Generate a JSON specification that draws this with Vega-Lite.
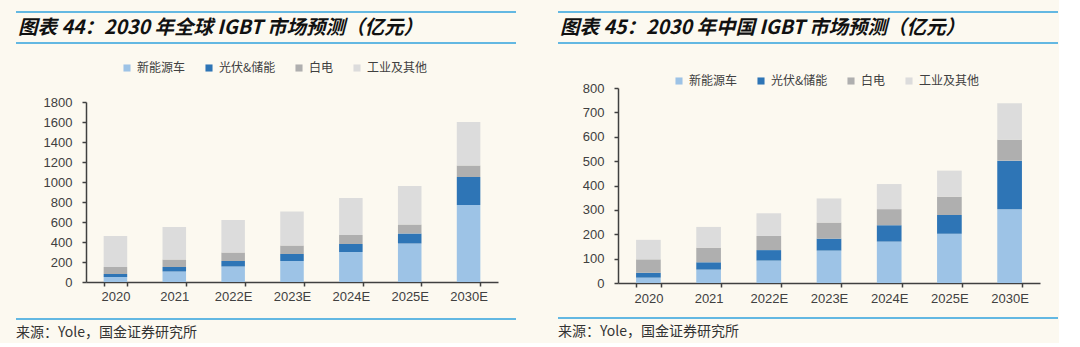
{
  "$schema": "https://vega.github.io/schema/vega-lite/v6.json",
  "background": "#fcf9f0",
  "padding": {"left": 15, "top": 11, "right": 0, "bottom": 0},
  "config": {
    "view": {"stroke": null},
    "font": "Liberation Sans",
    "axis": {
      "labelFont": "Liberation Sans",
      "labelFontSize": 13,
      "labelColor": "#404040",
      "domainColor": "#404040",
      "domainWidth": 1.5,
      "tickColor": "#404040",
      "tickWidth": 1.5,
      "tickSize": 4,
      "grid": false,
      "title": null
    },
    "legend": {
      "orient": "none",
      "direction": "horizontal",
      "title": null,
      "symbolType": "square",
      "symbolSize": 50,
      "symbolStrokeWidth": 0,
      "labelFont": "Noto Sans CJK SC",
      "labelFontSize": 12,
      "labelColor": "#404040",
      "labelOffset": 4,
      "columnPadding": 17
    }
  },
  "datasets": {
    "global": [
      {"year": "2020", "s": "新能源车", "i": 1, "v": 50},
      {"year": "2020", "s": "光伏&储能", "i": 2, "v": 30},
      {"year": "2020", "s": "白电", "i": 3, "v": 70},
      {"year": "2020", "s": "工业及其他", "i": 4, "v": 310},
      {"year": "2021", "s": "新能源车", "i": 1, "v": 105},
      {"year": "2021", "s": "光伏&储能", "i": 2, "v": 45},
      {"year": "2021", "s": "白电", "i": 3, "v": 75},
      {"year": "2021", "s": "工业及其他", "i": 4, "v": 325},
      {"year": "2022E", "s": "新能源车", "i": 1, "v": 155},
      {"year": "2022E", "s": "光伏&储能", "i": 2, "v": 55},
      {"year": "2022E", "s": "白电", "i": 3, "v": 85},
      {"year": "2022E", "s": "工业及其他", "i": 4, "v": 325},
      {"year": "2023E", "s": "新能源车", "i": 1, "v": 210},
      {"year": "2023E", "s": "光伏&储能", "i": 2, "v": 70},
      {"year": "2023E", "s": "白电", "i": 3, "v": 85},
      {"year": "2023E", "s": "工业及其他", "i": 4, "v": 340},
      {"year": "2024E", "s": "新能源车", "i": 1, "v": 300},
      {"year": "2024E", "s": "光伏&储能", "i": 2, "v": 80},
      {"year": "2024E", "s": "白电", "i": 3, "v": 90},
      {"year": "2024E", "s": "工业及其他", "i": 4, "v": 370},
      {"year": "2025E", "s": "新能源车", "i": 1, "v": 385},
      {"year": "2025E", "s": "光伏&储能", "i": 2, "v": 100},
      {"year": "2025E", "s": "白电", "i": 3, "v": 90},
      {"year": "2025E", "s": "工业及其他", "i": 4, "v": 385},
      {"year": "2030E", "s": "新能源车", "i": 1, "v": 770},
      {"year": "2030E", "s": "光伏&储能", "i": 2, "v": 280},
      {"year": "2030E", "s": "白电", "i": 3, "v": 115},
      {"year": "2030E", "s": "工业及其他", "i": 4, "v": 435}
    ],
    "china": [
      {"year": "2020", "s": "新能源车", "i": 1, "v": 22},
      {"year": "2020", "s": "光伏&储能", "i": 2, "v": 20},
      {"year": "2020", "s": "白电", "i": 3, "v": 55},
      {"year": "2020", "s": "工业及其他", "i": 4, "v": 80},
      {"year": "2021", "s": "新能源车", "i": 1, "v": 55},
      {"year": "2021", "s": "光伏&储能", "i": 2, "v": 30},
      {"year": "2021", "s": "白电", "i": 3, "v": 60},
      {"year": "2021", "s": "工业及其他", "i": 4, "v": 85},
      {"year": "2022E", "s": "新能源车", "i": 1, "v": 92},
      {"year": "2022E", "s": "光伏&储能", "i": 2, "v": 43},
      {"year": "2022E", "s": "白电", "i": 3, "v": 58},
      {"year": "2022E", "s": "工业及其他", "i": 4, "v": 93},
      {"year": "2023E", "s": "新能源车", "i": 1, "v": 133},
      {"year": "2023E", "s": "光伏&储能", "i": 2, "v": 49},
      {"year": "2023E", "s": "白电", "i": 3, "v": 66},
      {"year": "2023E", "s": "工业及其他", "i": 4, "v": 99},
      {"year": "2024E", "s": "新能源车", "i": 1, "v": 170},
      {"year": "2024E", "s": "光伏&储能", "i": 2, "v": 67},
      {"year": "2024E", "s": "白电", "i": 3, "v": 66},
      {"year": "2024E", "s": "工业及其他", "i": 4, "v": 103},
      {"year": "2025E", "s": "新能源车", "i": 1, "v": 202},
      {"year": "2025E", "s": "光伏&储能", "i": 2, "v": 77},
      {"year": "2025E", "s": "白电", "i": 3, "v": 75},
      {"year": "2025E", "s": "工业及其他", "i": 4, "v": 107},
      {"year": "2030E", "s": "新能源车", "i": 1, "v": 303},
      {"year": "2030E", "s": "光伏&储能", "i": 2, "v": 199},
      {"year": "2030E", "s": "白电", "i": 3, "v": 86},
      {"year": "2030E", "s": "工业及其他", "i": 4, "v": 149}
    ]
  },
  "spacing": 40,
  "resolve": {"scale": {"color": "independent"}, "legend": {"color": "independent"}},
  "hconcat": [
    {
      "columns": 1,
      "align": "none",
      "spacing": 15,
      "resolve": {"scale": {"color": "independent"}, "legend": {"color": "independent"}},
      "concat": [
        {
          "columns": 1,
          "align": "none",
          "spacing": 18,
          "resolve": {"scale": {"color": "independent"}, "legend": {"color": "independent"}},
          "concat": [
            {
              "width": 500,
              "height": 31,
              "data": {"values": [{"t": "图表 44：2030 年全球 IGBT 市场预测（亿元）"}]},
              "layer": [
                {"mark": {"type": "rule", "color": "#63b8e2", "strokeWidth": 2}, "encoding": {"y": {"datum": 1, "type": "quantitative", "scale": {"domain": [0, 1]}, "axis": null}}},
                {"mark": {"type": "rule", "color": "#63b8e2", "strokeWidth": 2}, "encoding": {"y": {"datum": 0, "type": "quantitative", "scale": {"domain": [0, 1]}, "axis": null}}},
                {"mark": {"type": "text", "align": "left", "baseline": "middle", "font": "Noto Sans CJK SC", "fontSize": 19.5, "fontStyle": "italic", "fontWeight": "bold", "color": "#111111", "dx": 2},
                 "encoding": {"text": {"field": "t"}, "x": {"datum": 0, "type": "quantitative", "scale": {"domain": [0, 1]}, "axis": null}, "y": {"datum": 0.5, "type": "quantitative", "scale": {"domain": [0, 1]}, "axis": null}}}
              ]
            },
            {
              "width": 482,
              "height": 180,
              "data": {"name": "global"},
              "mark": {"type": "bar"},
              "encoding": {
                "x": {"field": "year", "type": "ordinal", "sort": null, "scale": {"range": [70, 482], "paddingInner": 0.6, "paddingOuter": 0.3}, "axis": {"labelAngle": 0, "tickBand": "extent", "labelPadding": 4}},
                "y": {"field": "v", "type": "quantitative", "stack": "zero", "scale": {"domain": [0, 1800]}, "axis": {"values": [0, 200, 400, 600, 800, 1000, 1200, 1400, 1600, 1800], "format": "d", "labelPadding": 10, "offset": -70}},
                "color": {"field": "s", "type": "nominal", "scale": {"domain": ["新能源车", "光伏&储能", "白电", "工业及其他"], "range": ["#9dc3e6", "#2e75b6", "#afafaf", "#dcdcdc"]}, "legend": {"legendX": 105, "legendY": -40}},
                "order": {"field": "i", "type": "quantitative"}
              }
            }
          ]
        },
        {
          "width": 500,
          "height": 24,
          "data": {"values": [{"t": "来源：Yole，国金证券研究所"}]},
          "layer": [
            {"mark": {"type": "rule", "color": "#63b8e2", "strokeWidth": 2}, "encoding": {"y": {"datum": 1, "type": "quantitative", "scale": {"domain": [0, 1]}, "axis": null}}},
            {"mark": {"type": "text", "align": "left", "baseline": "middle", "font": "Noto Sans CJK SC", "fontSize": 14, "color": "#333333"},
             "encoding": {"text": {"field": "t"}, "x": {"datum": 0, "type": "quantitative", "scale": {"domain": [0, 1]}, "axis": null}, "y": {"datum": 0.4, "type": "quantitative", "scale": {"domain": [0, 1]}, "axis": null}}}
          ]
        }
      ]
    },
    {
      "columns": 1,
      "align": "none",
      "spacing": 12,
      "resolve": {"scale": {"color": "independent"}, "legend": {"color": "independent"}},
      "concat": [
        {
          "columns": 1,
          "align": "none",
          "spacing": 31,
          "resolve": {"scale": {"color": "independent"}, "legend": {"color": "independent"}},
          "concat": [
            {
              "width": 500,
              "height": 31,
              "data": {"values": [{"t": "图表 45：2030 年中国 IGBT 市场预测（亿元）"}]},
              "layer": [
                {"mark": {"type": "rule", "color": "#63b8e2", "strokeWidth": 2}, "encoding": {"y": {"datum": 1, "type": "quantitative", "scale": {"domain": [0, 1]}, "axis": null}}},
                {"mark": {"type": "rule", "color": "#63b8e2", "strokeWidth": 2}, "encoding": {"y": {"datum": 0, "type": "quantitative", "scale": {"domain": [0, 1]}, "axis": null}}},
                {"mark": {"type": "text", "align": "left", "baseline": "middle", "font": "Noto Sans CJK SC", "fontSize": 19.5, "fontStyle": "italic", "fontWeight": "bold", "color": "#111111", "dx": 2},
                 "encoding": {"text": {"field": "t"}, "x": {"datum": 0, "type": "quantitative", "scale": {"domain": [0, 1]}, "axis": null}, "y": {"datum": 0.5, "type": "quantitative", "scale": {"domain": [0, 1]}, "axis": null}}}
              ]
            },
            {
              "width": 482,
              "height": 195,
              "data": {"name": "china"},
              "mark": {"type": "bar"},
              "encoding": {
                "x": {"field": "year", "type": "ordinal", "sort": null, "scale": {"range": [60, 482], "paddingInner": 0.59, "paddingOuter": 0.3}, "axis": {"labelAngle": 0, "tickBand": "extent", "labelPadding": 5}},
                "y": {"field": "v", "type": "quantitative", "stack": "zero", "scale": {"domain": [0, 800]}, "axis": {"values": [0, 100, 200, 300, 400, 500, 600, 700, 800], "format": "d", "labelPadding": 10, "offset": -60}},
                "color": {"field": "s", "type": "nominal", "scale": {"domain": ["新能源车", "光伏&储能", "白电", "工业及其他"], "range": ["#9dc3e6", "#2e75b6", "#afafaf", "#dcdcdc"]}, "legend": {"legendX": 115, "legendY": -13}},
                "order": {"field": "i", "type": "quantitative"}
              }
            }
          ]
        },
        {
          "width": 500,
          "height": 24,
          "data": {"values": [{"t": "来源：Yole，国金证券研究所"}]},
          "layer": [
            {"mark": {"type": "rule", "color": "#63b8e2", "strokeWidth": 2}, "encoding": {"y": {"datum": 1, "type": "quantitative", "scale": {"domain": [0, 1]}, "axis": null}}},
            {"mark": {"type": "text", "align": "left", "baseline": "middle", "font": "Noto Sans CJK SC", "fontSize": 14, "color": "#333333"},
             "encoding": {"text": {"field": "t"}, "x": {"datum": 0, "type": "quantitative", "scale": {"domain": [0, 1]}, "axis": null}, "y": {"datum": 0.4, "type": "quantitative", "scale": {"domain": [0, 1]}, "axis": null}}}
          ]
        }
      ]
    }
  ]
}
